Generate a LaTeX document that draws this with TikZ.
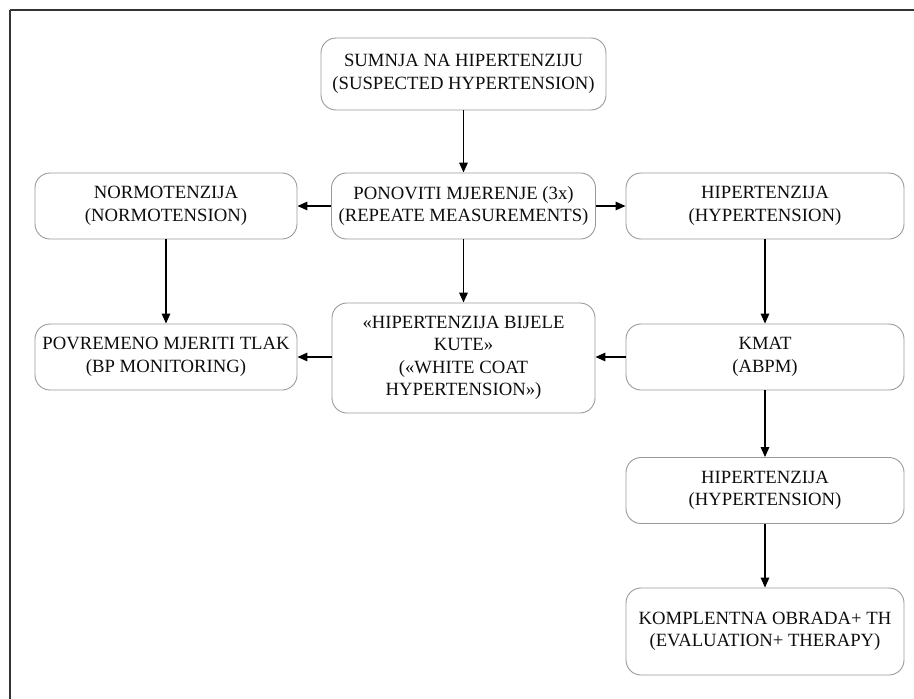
\documentclass[tikz,border=0pt]{standalone}
\usepackage{fontspec}
\setmainfont{Liberation Serif}
\usetikzlibrary{arrows.meta}
\begin{document}
\begin{tikzpicture}[x=1pt,y=-1pt,
 box/.style={draw=black!40, line width=0.9pt, rounded corners=15pt, align=center, inner sep=0pt,
   font=\fontsize{18.7}{22.5}\selectfont, text=black!95, minimum width=263pt, minimum height=66pt},
 wbox/.style={box, minimum width=278pt},
 arr/.style={-{Triangle[length=10pt,width=8.5pt]}, line width=1.6pt, black},
 frame/.style={line width=2pt, black!80}]
\useasboundingbox (0,0) rectangle (914,699);
\draw[frame] (9.5,10) -- (914,10);
\draw[frame] (9.5,10) -- (9.5,699);
\node[box, minimum width=285pt, minimum height=72pt] (sus) at (463.5,74) {SUMNJA NA HIPERTENZIJU\\(SUSPECTED HYPERTENSION)};
\node[box, minimum width=264pt] (pon) at (463.5,206) {PONOVITI MJERENJE (3x)\\(REPEATE MEASUREMENTS)};
\node[box, minimum width=262pt] (nor) at (166,206) {NORMOTENZIJA\\(NORMOTENSION)};
\node[box, minimum width=262pt] (pov) at (166,357) {POVREMENO MJERITI TLAK\\(BP MONITORING)};
\node[box, minimum width=263pt, minimum height=110pt] (wc) at (463.5,358) {«HIPERTENZIJA BIJELE\\KUTE»\\(«WHITE COAT\\HYPERTENSION»)};
\node[wbox] (hip) at (765,206) {HIPERTENZIJA\\(HYPERTENSION)};
\node[wbox] (kmat) at (765,357) {KMAT\\(ABPM)};
\node[wbox] (hip2) at (765,490.5) {HIPERTENZIJA\\(HYPERTENSION)};
\node[wbox, minimum height=87pt] (kom) at (765,631.5) {KOMPLENTNA OBRADA+ TH\\(EVALUATION+ THERAPY)};
\draw[arr] (sus) -- (pon);
\draw[arr] (pon) -- (nor);
\draw[arr] (pon) -- (hip);
\draw[arr] (nor) -- (pov);
\draw[arr] (pon) -- (wc);
\draw[arr] (hip) -- (kmat);
\draw[arr] (kmat.west) -- (wc.east |- kmat.west);
\draw[arr] (wc.west |- pov.east) -- (pov.east);
\draw[arr] (kmat) -- (hip2);
\draw[arr] (hip2) -- (kom);
\end{tikzpicture}
\end{document}
